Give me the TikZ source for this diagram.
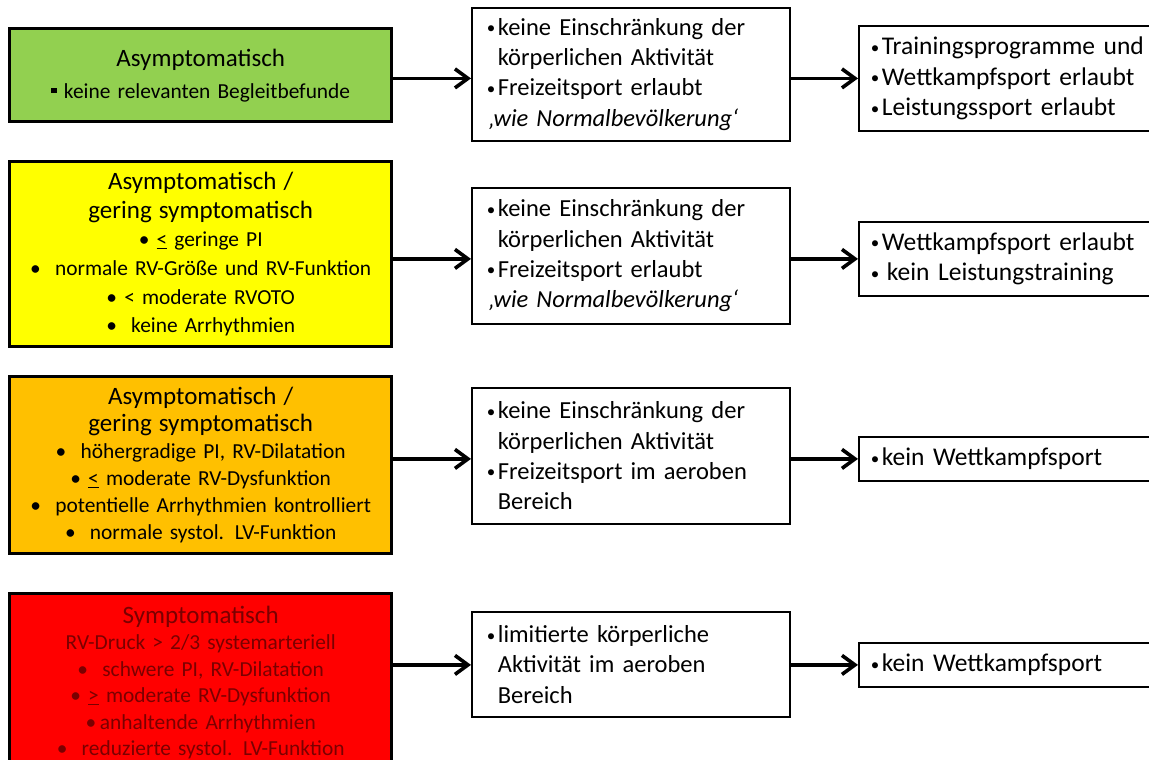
\documentclass[tikz,border=0pt]{standalone}
\usepackage{fontspec}
\setmainfont{Carlito}
\usetikzlibrary{arrows.meta}
\definecolor{cgreen}{HTML}{92D050}
\definecolor{cyellow}{HTML}{FFFF00}
\definecolor{corange}{HTML}{FFC000}
\definecolor{cred}{HTML}{FF0000}
\definecolor{cdarkred}{HTML}{7A0000}
\newcommand{\cattitle}{\fontsize{25}{30}\selectfont}
\newcommand{\ibm}{\makebox[12pt][l]{\hspace*{1pt}\raisebox{1.5pt}{\fontsize{17}{17}\selectfont •}}}
\newcommand{\iim}{\hspace*{12pt}}
\newcommand{\sqb}{\rule[0.22em]{0.26em}{0.26em}}
\begin{document}
\begin{tikzpicture}[x=1pt,y=-1pt,
  catbox/.style={draw=black, line width=3.4pt, anchor=north west, minimum width=382pt,
    text width=372pt, inner xsep=5pt, inner ysep=0pt, align=center, text=black},
  midbox/.style={draw=black, line width=1.8pt, anchor=north west, minimum width=318pt,
    text width=290pt, inner xsep=14pt, inner ysep=0pt, align=left,
    font=\fontsize{24.5}{30.3}\selectfont},
  resbox/.style={draw=black, line width=1.8pt, anchor=north west,
    text width=290pt, inner xsep=11pt, inner ysep=0pt, align=left,
    font=\fontsize{25.5}{30.5}\selectfont},
  arr/.style={line width=3.6pt, -{Straight Barb[length=13pt,width=19pt]}}
]
\useasboundingbox[fill=white] (0,0) rectangle (1149,760);

% category boxes
\node[catbox, fill=cgreen, minimum height=93pt, font=\fontsize{21.4}{32}\selectfont] (c1) at (8,27)
  {{\cattitle Asymptomatisch}\\ \sqb\ keine relevanten Begleitbefunde};
\node[catbox, fill=cyellow, minimum height=185pt, font=\fontsize{21.4}{28.6}\selectfont] (c2) at (8,160)
  {{\cattitle Asymptomatisch /}\\ {\cattitle gering symptomatisch}\\
   • \underline{<} geringe PI\\ • \ normale RV-Größe und RV-Funktion\\
   • < moderate RVOTO\\ • \ keine Arrhythmien};
\node[catbox, fill=corange, minimum height=177pt, font=\fontsize{21.4}{27}\selectfont] (c3) at (8,375)
  {{\cattitle Asymptomatisch /}\\ {\cattitle gering symptomatisch}\\
   • \ höhergradige PI, RV-Dilatation\\ • \underline{<} moderate RV-Dysfunktion\\
   • \ potentielle Arrhythmien kontrolliert\\ • \ normale systol. LV-Funktion};
\node[catbox, fill=cred, text=cdarkred, minimum height=178pt, font=\fontsize{21.4}{26.5}\selectfont] (c4) at (8,592)
  {{\cattitle Symptomatisch}\\ RV-Druck > 2/3 systemarteriell\\
   • \ schwere PI, RV-Dilatation\\ • \underline{>} moderate RV-Dysfunktion\\
   •\,anhaltende Arrhythmien\\ • \ reduzierte systol. LV-Funktion};

% middle boxes
\node[midbox, minimum height=133pt] (m1) at (471,7)
  {\ibm keine Einschränkung der\\ \iim körperlichen Aktivität\\ \ibm Freizeitsport erlaubt\\
   \hspace*{3pt}\textit{‚wie Normalbevölkerung‘}};
\node[midbox, minimum height=136pt] (m2) at (471,187)
  {\ibm keine Einschränkung der\\ \iim körperlichen Aktivität\\ \ibm Freizeitsport erlaubt\\
   \hspace*{3pt}\textit{‚wie Normalbevölkerung‘}};
\node[midbox, minimum height=136pt] (m3) at (471,387)
  {\ibm keine Einschränkung der\\ \iim körperlichen Aktivität\\ \ibm Freizeitsport im aeroben\\
   \iim Bereich};
\node[midbox, minimum height=105pt] (m4) at (471,611)
  {\ibm limitierte körperliche\\ \iim Aktivität im aeroben\\ \iim Bereich};

% result boxes
\node[resbox, minimum height=105pt] (r1) at (858,25)
  {\ibm Trainingsprogramme und\\ \ibm Wettkampfsport erlaubt\\ \ibm Leistungssport erlaubt};
\node[resbox, minimum height=74pt] (r2) at (858,221)
  {\ibm Wettkampfsport erlaubt\\ \ibm\hspace{5pt}kein Leistungstraining};
\node[resbox, minimum height=44pt] (r3) at (858,436)
  {\ibm kein Wettkampfsport};
\node[resbox, minimum height=44pt] (r4) at (858,642)
  {\ibm kein Wettkampfsport};

% connectors
\draw[arr] (c1.east |- r1.west) -- (m1.west |- r1.west);
\draw[arr] (m1.east |- r1.west) -- (r1.west);
\draw[arr] (c2.east |- r2.west) -- (m2.west |- r2.west);
\draw[arr] (m2.east |- r2.west) -- (r2.west);
\draw[arr] (c3.east |- r3.west) -- (m3.west |- r3.west);
\draw[arr] (m3.east |- r3.west) -- (r3.west);
\draw[arr] (c4.east |- r4.west) -- (m4.west |- r4.west);
\draw[arr] (m4.east |- r4.west) -- (r4.west);
\end{tikzpicture}
\end{document}
